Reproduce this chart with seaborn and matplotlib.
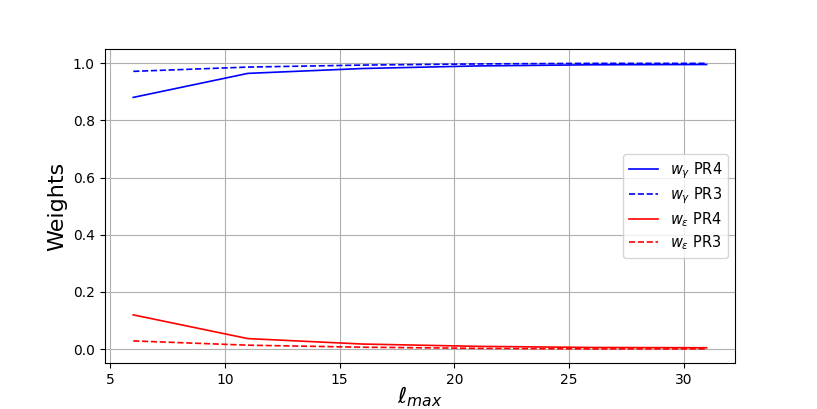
import numpy as np
import pandas as pd
import matplotlib
matplotlib.use("Agg")
import matplotlib.pyplot as plt
import seaborn as sns

# l_max values
lmax = [6, 11, 16, 21, 26, 31]

# weights
w_gamma_pr4 = [0.880, 0.964, 0.981, 0.990, 0.994, 0.995]
w_gamma_pr3 = [0.971, 0.986, 0.993, 0.997, 0.999, 0.999]
w_eps_pr4 = [0.120, 0.037, 0.018, 0.010, 0.006, 0.005]
w_eps_pr3 = [0.029, 0.014, 0.007, 0.003, 0.001, 0.001]

labels = [r"$w_\gamma$ PR4", r"$w_\gamma$ PR3", r"$w_\epsilon$ PR4", r"$w_\epsilon$ PR3"]
series = [w_gamma_pr4, w_gamma_pr3, w_eps_pr4, w_eps_pr3]
colors = ["blue", "blue", "red", "red"]
styles = ["-", "--", "-", "--"]

fig, ax = plt.subplots(figsize=(8.17, 4.09), dpi=100)
for vals, lab, col, ls in zip(series, labels, colors, styles):
    df = pd.DataFrame({"lmax": lmax, "w": vals})
    sns.lineplot(data=df, x="lmax", y="w", color=col, linestyle=ls,
                 linewidth=1.2, label=lab, ax=ax)

ax.grid(True)
ax.set_xlabel(r"$\ell_{max}$", fontsize=16, labelpad=-2)
ax.set_ylabel("Weights", fontsize=16)
ax.set_xticks([5, 10, 15, 20, 25, 30])
ax.legend(loc="center right", fontsize=10.5, labelspacing=0.3)
fig.subplots_adjust(left=0.128, right=0.9, top=0.88, bottom=0.112)
fig.savefig("out.png", dpi=100)
